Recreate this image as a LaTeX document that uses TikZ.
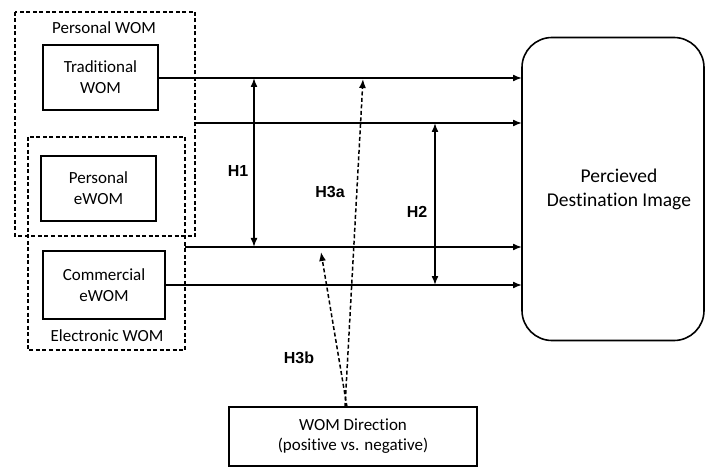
\documentclass[tikz,border=0pt]{standalone}
\usepackage{fontspec}
\setmainfont{Carlito}[Ligatures={NoCommon}]
\newfontfamily\labfont{Liberation Sans}
\usetikzlibrary{arrows.meta}
\begin{document}
\begin{tikzpicture}[x=1pt,y=-1pt,
  box/.style={draw,line width=1.6pt,align=center,inner sep=0pt,font=\fontsize{17}{21}\selectfont},
  grp/.style={draw,line width=1.5pt,dash pattern=on 4pt off 2.5pt},
  arr/.style={line width=1.6pt,-{Latex[length=9pt,width=7pt]}},
  darr/.style={line width=1.6pt,{Latex[length=9pt,width=7pt]}-{Latex[length=9pt,width=7pt]}},
  dsh/.style={line width=1.5pt,dash pattern=on 4pt off 2.5pt,-{Latex[length=9pt,width=7pt]}},
  hlab/.style={font=\labfont\bfseries\fontsize{16}{18}\selectfont},
  txt/.style={font=\fontsize{17}{20}\selectfont}]
\useasboundingbox (0,0) rectangle (705,468);
% groups
\draw[grp] (15,12) rectangle (195,236);
\draw[grp] (28,137) rectangle (185,350);
\node[txt] (pwl) at (104,28) {Personal WOM};
\node[txt] (ewl) at (107,336) {Electronic WOM};
% source boxes
\node[box,minimum width=115pt,minimum height=65pt] (trad) at (100.5,77.5) {Traditional\\WOM};
\node[box,minimum width=115pt,minimum height=65pt] (pew) at (98.5,188.5) {Personal\\eWOM};
\node[box,minimum width=122pt,minimum height=68pt] (cew) at (104,285) {Commercial\\eWOM};
% target
\node[draw,line width=1.6pt,rounded corners=30pt,minimum width=182pt,minimum height=303pt,inner sep=0pt] (img) at (613,189) {};
\node[align=center,font=\fontsize{19.5}{24}\selectfont] (imgt) at (619,189) {Percieved\\Destination Image};
% direction
\node[draw,line width=1.6pt,minimum width=248pt,minimum height=59pt,align=center,inner sep=0pt,font=\fontsize{17}{20}\selectfont] (dir) at (353,436.5) {WOM Direction\\(positive vs. negative)};
% coordinates
\coordinate (r1s) at (158,78);  \coordinate (r1e) at (522,78);
\coordinate (r2s) at (195,123); \coordinate (r2e) at (522,123);
\coordinate (r3s) at (185,247); \coordinate (r3e) at (522,247);
\coordinate (r4s) at (165,285); \coordinate (r4e) at (522,285);
\draw[arr] (r1s) -- (r1e);
\draw[arr] (r2s) -- (r2e);
\draw[arr] (r3s) -- (r3e);
\draw[arr] (r4s) -- (r4e);
% H1, H2
\coordinate (h1a) at (254,78); \coordinate (h1b) at (254,247);
\coordinate (h2a) at (435,123); \coordinate (h2b) at (435,285);
\draw[darr] (h1a) -- (h1b);
\draw[darr] (h2a) -- (h2b);
\node[hlab] (h1l) at (238,171) {H1};
\node[hlab] (h2l) at (417,212) {H2};
% H3
\coordinate (d1) at (345,407); \coordinate (t1) at (363,79);
\coordinate (d2) at (347,407); \coordinate (t2) at (321,252);
\draw[dsh] (d1) -- (t1);
\draw[dsh] (d2) -- (t2);
\node[hlab] (h3a) at (330,192) {H3a};
\node[hlab] (h3b) at (299,358) {H3b};
\end{tikzpicture}
\end{document}
